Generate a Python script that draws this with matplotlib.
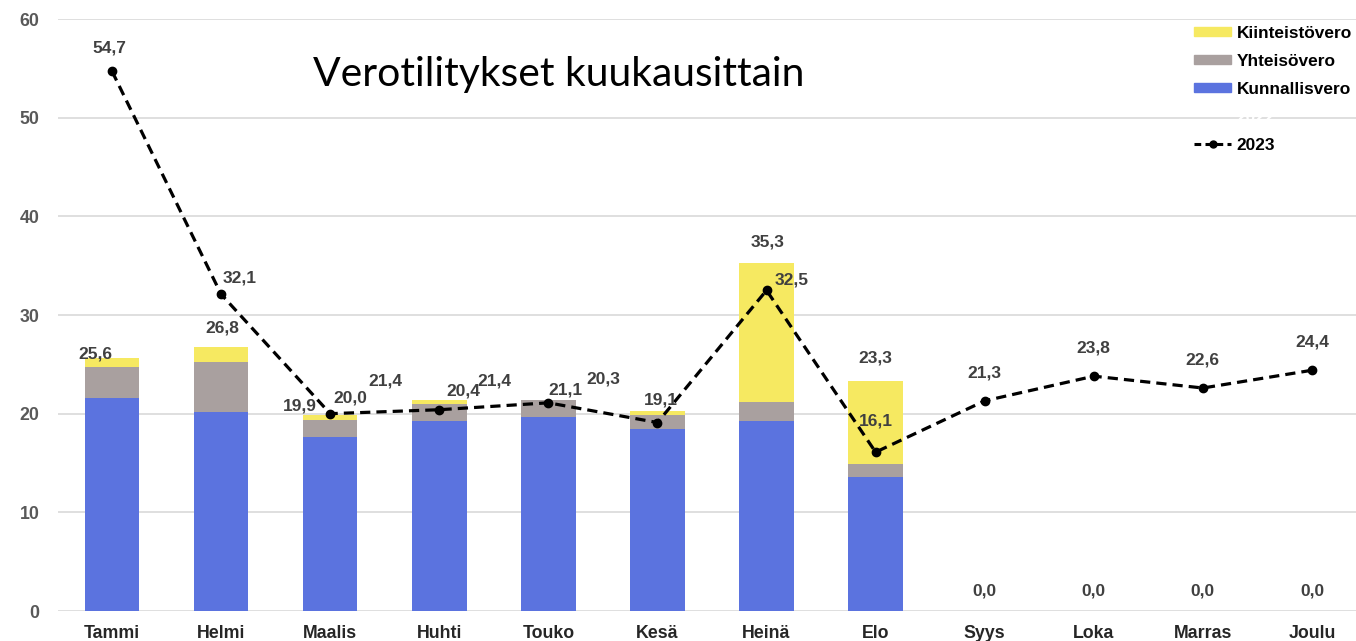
import matplotlib
matplotlib.use("Agg")
import matplotlib.pyplot as plt
from matplotlib.patches import Patch
from matplotlib.lines import Line2D
import numpy as np

months = ["Tammi", "Helmi", "Maalis", "Huhti", "Touko", "Kesä", "Heinä", "Elo",
          "Syys", "Loka", "Marras", "Joulu"]
kunnallisvero = [21.6, 20.2, 17.6, 19.3, 19.7, 18.4, 19.25, 13.55, 0, 0, 0, 0]
yhteisovero = [3.1, 5.0, 1.8, 1.7, 1.7, 1.5, 1.95, 1.35, 0, 0, 0, 0]
kiinteistovero = [0.9, 1.6, 0.5, 0.4, 0.0, 0.4, 14.1, 8.4, 0, 0, 0, 0]
totals = [25.6, 26.8, 19.9, 21.4, 21.4, 20.3, 35.3, 23.3, 0.0, 0.0, 0.0, 0.0]
line_2023 = [54.7, 32.1, 20.0, 20.4, 21.1, 19.1, 32.5, 16.1, 21.3, 23.8, 22.6, 24.4]

# label offsets in pixels (styling)
total_off = [(-17, 4), (1, 19), (-30, 9), (-54, 19), (-54, 19), (-54, 32), (1, 21), (0, 23),
             (0, 20), (0, 20), (0, 20), (0, 20)]
line_off = [(-3, 23), (19, 16), (20, 16), (24, 19), (17, 13), (3, 23), (25, 10), (0, 31),
            (0, 28), (0, 28), (0, 28), (0, 28)]

c_blue = "#5B73DF"
c_gray = "#A9A09F"
c_yellow = "#F6E961"
c_text = "#404040"

fig = plt.figure(figsize=(13.56, 6.41), dpi=100)
ax = fig.add_axes([57.5 / 1356, 30 / 641, 1309 / 1356, 592 / 641])

x = np.arange(len(months))
w = 0.5
kv = np.array(kunnallisvero)
yv = np.array(yhteisovero)
kiv = np.array(kiinteistovero)
ax.bar(x, kv, w, color=c_blue, zorder=2)
ax.bar(x, yv, w, bottom=kv, color=c_gray, zorder=2)
ax.bar(x, kiv, w, bottom=kv + yv, color=c_yellow, zorder=2)

ax.plot(x, line_2023, color="black", linestyle=(0, (3.2, 1.9)), linewidth=2.3,
        marker="o", markersize=6, zorder=4)

for i in range(len(months)):
    ax.annotate(f"{totals[i]:.1f}".replace(".", ","), (x[i], totals[i]),
                xytext=total_off[i], textcoords="offset pixels",
                ha="center", va="center", fontsize=12.5, fontweight="bold",
                color=c_text, family="Liberation Sans", zorder=5)
    ax.annotate(f"{line_2023[i]:.1f}".replace(".", ","), (x[i], line_2023[i]),
                xytext=line_off[i], textcoords="offset pixels",
                ha="center", va="center", fontsize=12.5, fontweight="bold",
                color=c_text, family="Liberation Sans", zorder=5)

ax.set_xlim(-0.5, len(months) - 0.5)
ax.set_ylim(0, 60)
ax.set_yticks(range(0, 61, 10))
ax.yaxis.grid(True, color="#D9D9D9", linewidth=1.2, zorder=0)
ax.set_axisbelow(True)
for s in ax.spines.values():
    s.set_visible(False)
ax.tick_params(axis="both", length=0)
ax.tick_params(axis="x", pad=10)
ax.tick_params(axis="y", pad=13)
ax.set_xticks(x)
ax.set_xticklabels(months)
for lab in ax.get_xticklabels() + ax.get_yticklabels():
    lab.set_fontweight("bold")
    lab.set_fontsize(12.8)
    lab.set_color("#262626")
    lab.set_family("Liberation Sans")
for lab in ax.get_yticklabels():
    lab.set_color("#595959")

fig.text(313 / 1356, 1 - 86 / 641, "Verotilitykset kuukausittain", fontsize=29.4,
         family="Lato", va="baseline", ha="left", color="black")

handles = [Patch(color=c_yellow), Patch(color=c_gray), Patch(color=c_blue),
           Line2D([], [], color="none"),
           Line2D([], [], color="black", linestyle=(0, (2.2, 1.4)), linewidth=2.2, marker="o",
                  markersize=5)]
labels = ["Kiinteistövero", "Yhteisövero", "Kunnallisvero", "2022", "2023"]
leg = fig.legend(handles, labels, loc="upper left", bbox_to_anchor=(1194 / 1356, 1 - 26 / 641),
                 frameon=False, borderpad=0, borderaxespad=0, handlelength=2.15,
                 handleheight=0.4, handletextpad=0.33, labelspacing=0.75,
                 prop={"family": "Liberation Sans", "weight": "bold", "size": 12.4})
for t in leg.get_texts():
    t.set_color("black")
leg.get_texts()[3].set_color("white")

fig.savefig("out.png", dpi=100)
